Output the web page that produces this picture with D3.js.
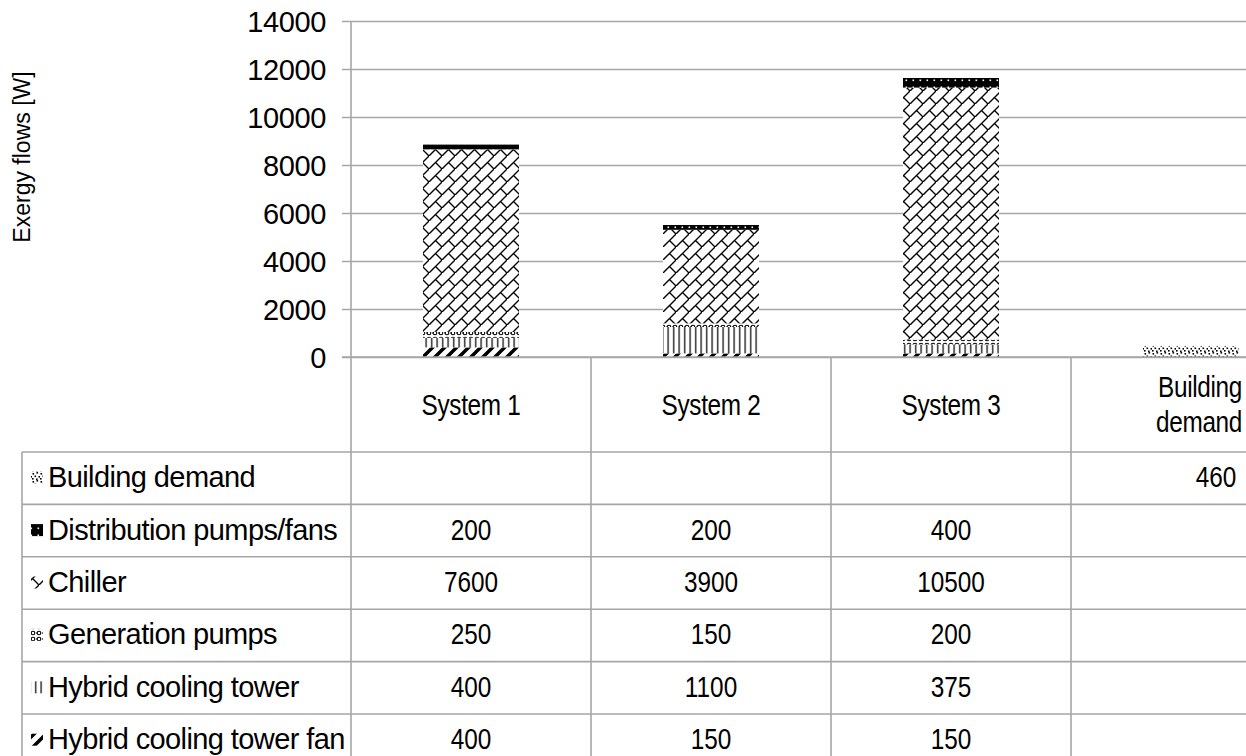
<!DOCTYPE html>
<html>
<head>
<meta charset="utf-8">
<script src="https://cdn.jsdelivr.net/npm/d3@7/dist/d3.min.js"></script>
<style>
  html, body { margin: 0; padding: 0; background: #fff; overflow: hidden; }
  svg { display: block; font-family: "Liberation Sans", Arial, sans-serif; }
</style>
</head>
<body>
<svg id="chart" width="1246" height="756"></svg>
<script>
// Exergy flows per system, stacked from the bottom component upward
const categories = ["System 1", "System 2", "System 3", "Building demand"];
const headerLines = [["System 1"], ["System 2"], ["System 3"], ["Building", "demand"]];
const seriesNames = ["Hybrid cooling tower fan", "Hybrid cooling tower", "Generation pumps",
                     "Chiller", "Distribution pumps/fans", "Building demand"];
const coolingTowerFan = [400, 150, 150, null];
const coolingTower    = [400, 1100, 375, null];
const generationPumps = [250, 150, 200, null];
const chiller         = [7600, 3900, 10500, null];
const distribution    = [200, 200, 400, null];
const buildingDemand  = [null, null, null, 460];
const seriesValues = [coolingTowerFan, coolingTower, generationPumps, chiller, distribution, buildingDemand];
const yTicks = [0, 2000, 4000, 6000, 8000, 10000, 12000, 14000];
const patternIds = ["pFan", "pTower", "pGen", "pChiller", "pDist", "pDemand"];

const W = 1246, H = 756;
const svg = d3.select("#chart");
const grid = "#a6a6a6";

// ---- fill patterns ----
const defs = svg.append("defs");
function pat(id, w, h) {
  const p = defs.append("pattern").attr("id", id).attr("patternUnits", "userSpaceOnUse")
    .attr("width", w).attr("height", h);
  p.append("rect").attr("width", w).attr("height", h).attr("fill", "#fff");
  return p;
}
// wide upward diagonal
pat("pFan", 12, 12).append("path").attr("d", "M-3,15 L15,-3 M-3,3 L3,-3 M9,15 L15,9")
  .attr("stroke", "#000").attr("stroke-width", 3.5);
// narrow vertical
pat("pTower", 5.5, 8).append("rect").attr("x", 2).attr("width", 1.3).attr("height", 8).attr("fill", "#111");
// small rings
{
  const p = pat("pGen", 6, 6);
  p.append("circle").attr("cx", 3).attr("cy", 3).attr("r", 1.8).attr("fill", "none").attr("stroke", "#000").attr("stroke-width", 1.1);
  p.append("rect").attr("x", 0).attr("y", 2.5).attr("width", 1).attr("height", 1).attr("fill", "#000");
}
// diagonal brick
pat("pChiller", 13, 13).append("path")
  .attr("d", "M-1,14 L14,-1 M6.5,6.5 L13,13")
  .attr("stroke", "#000").attr("stroke-width", 1.4).attr("fill", "none");
// dark with light dots
{
  const p = pat("pDist", 7, 7);
  p.append("rect").attr("width", 7).attr("height", 7).attr("fill", "#000");
  p.append("rect").attr("x", 2.5).attr("y", 2.5).attr("width", 1.6).attr("height", 1.6).attr("fill", "#fff");
}
// confetti
{
  const p = pat("pDemand", 8, 8);
  [[0.5, 1], [4.5, 0], [2.5, 3.5], [6.5, 4], [0, 6], [4, 6.5]].forEach(([x, y]) =>
    p.append("rect").attr("x", x).attr("y", y).attr("width", 1.6).attr("height", 1.6).attr("fill", "#000"));
}

// ---- scales ----
const x = d3.scaleBand().domain(categories).range([351, 1311]).paddingInner(0.6).paddingOuter(0.3);
const y = d3.scaleLinear().domain([0, 14000]).range([357, 21]);
const colLeft = c => x(c) - (x.step() - x.bandwidth()) / 2;
const colCenter = c => x(c) + x.bandwidth() / 2;

// ---- gridlines & y axis ----
const yAxis = d3.axisLeft(y).tickValues(yTicks).tickFormat(d3.format("d"))
  .tickSize(-(W - 351)).tickSizeOuter(0).tickPadding(25);
const gy = svg.append("g").attr("transform", "translate(351,0)").call(yAxis);
gy.select(".domain").remove();
gy.selectAll(".tick line").attr("stroke", grid).attr("stroke-width", 1.6).attr("x1", -9);
gy.selectAll(".tick text").attr("font-size", 29).attr("fill", "#000").attr("letter-spacing", -0.4)
  .attr("font-family", "'Liberation Sans', Arial, sans-serif").attr("dy", "0.35em");

svg.append("text").attr("transform", "translate(30,157) rotate(-90)")
  .attr("text-anchor", "middle").attr("font-size", 23).text("Exergy flows [W]");

// ---- stacked bars ----
const rows = categories.map((c, i) => {
  const r = { cat: c };
  seriesNames.forEach((s, k) => r[s] = seriesValues[k][i] || 0);
  return r;
});
const stacked = d3.stack().keys(seriesNames)(rows);
svg.append("g").selectAll("g").data(stacked).join("g")
  .attr("fill", (d, k) => `url(#${patternIds[k]})`)
  .selectAll("rect").data(d => d.filter(p => p[1] > p[0])).join("rect")
  .attr("x", d => x(d.data.cat)).attr("width", x.bandwidth())
  .attr("y", d => y(d[1])).attr("height", d => y(d[0]) - y(d[1]));

// ---- data table ----
const tableOrder = seriesNames.slice().reverse();
const rowY = d3.scaleBand().domain(tableOrder).range([452, 452 + 6 * 52.4]);
const lines = svg.append("g").attr("stroke", grid).attr("stroke-width", 1.6);
// axis line at zero and vertical column dividers
lines.append("line").attr("x1", 342).attr("x2", W).attr("y1", y(0)).attr("y2", y(0));
categories.forEach(c => {
  lines.append("line").attr("x1", colLeft(c)).attr("x2", colLeft(c))
    .attr("y1", c === categories[0] ? y(14000) : y(0)).attr("y2", H);
});
// row lines
tableOrder.forEach(s => {
  lines.append("line").attr("x1", 22).attr("x2", W).attr("y1", rowY(s)).attr("y2", rowY(s));
});
lines.append("line").attr("x1", 22).attr("x2", 22).attr("y1", 452).attr("y2", H);

// condensed text helper: horizontal squeeze around the anchor point
function squeezed(g, tx, ty, sx, anchor, str) {
  return g.append("text").attr("transform", `translate(${tx},${ty}) scale(${sx},1)`)
    .attr("text-anchor", anchor).attr("dy", "0.33em").text(str);
}

// column headers
const hdr = svg.append("g").attr("font-size", 29).attr("letter-spacing", -0.4);
categories.forEach((c, i) => {
  const ls = headerLines[i];
  const last = i === categories.length - 1;
  ls.forEach((l, j) => squeezed(hdr, last ? 1242 : colCenter(c),
    405 + (j - (ls.length - 1) / 2) * 35, 0.84, last ? "end" : "middle", l));
});

// row labels with legend keys, and values
const body = svg.append("g").attr("font-size", 29);
tableOrder.forEach(s => {
  const k = seriesNames.indexOf(s);
  const cy = rowY(s) + rowY.bandwidth() / 2 - 0.5;
  body.append("rect").attr("x", 31).attr("y", cy - 6).attr("width", 12).attr("height", 12)
    .attr("fill", `url(#${patternIds[k]})`);
  body.append("text").attr("x", 48).attr("y", cy).attr("dy", "0.33em")
    .attr("letter-spacing", -0.6).text(s);
  categories.forEach((c, i) => {
    const v = seriesValues[k][i];
    if (v == null) return;
    const last = i === categories.length - 1;
    squeezed(body, last ? 1216 : colCenter(c), cy, 0.84, "middle", v);
  });
});
</script>
</body>
</html>
